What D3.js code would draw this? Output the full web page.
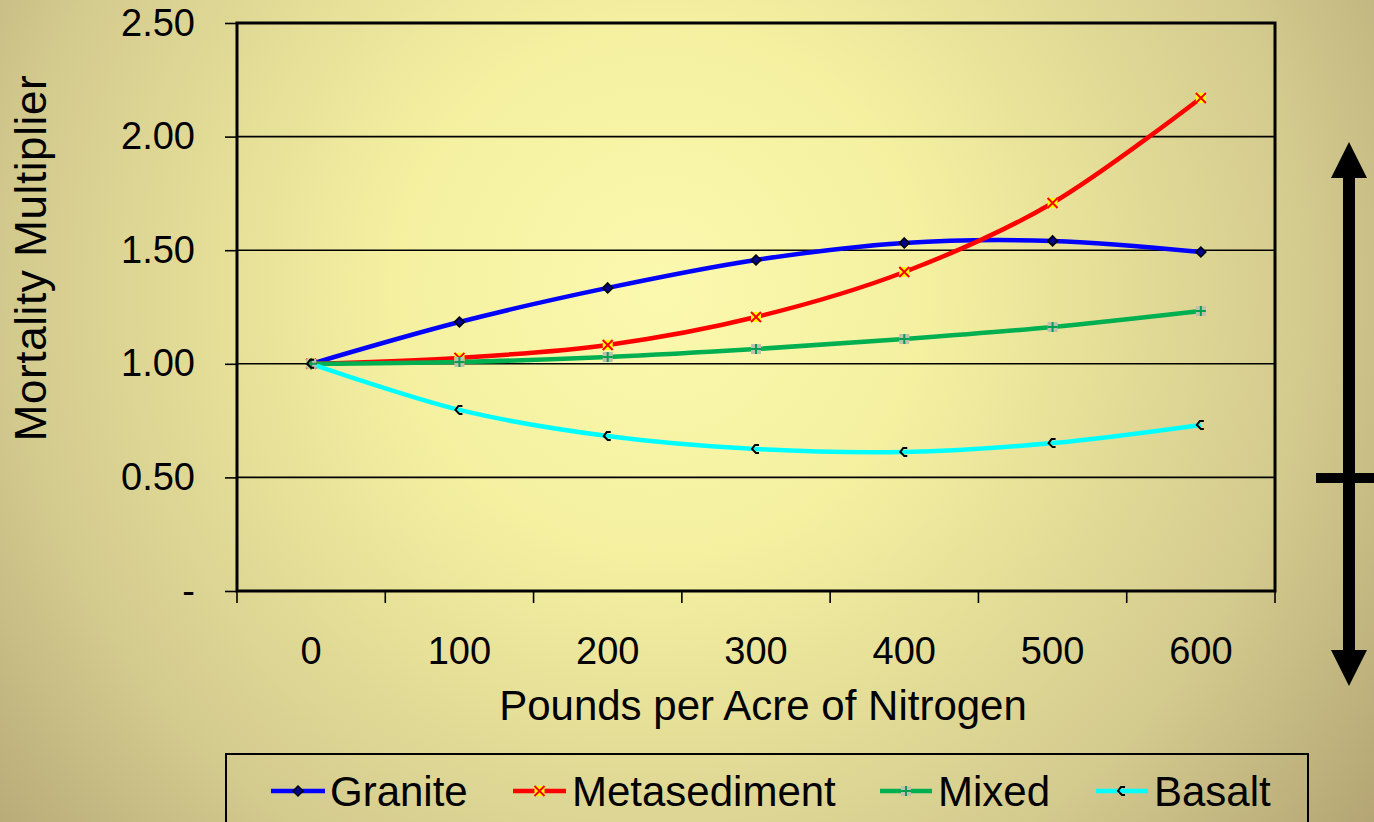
<!DOCTYPE html>
<html>
<head>
<meta charset="utf-8">
<script src="https://cdn.jsdelivr.net/npm/d3@7"></script>
<style>
  html, body { margin: 0; padding: 0; }
  body { width: 1374px; height: 822px; overflow: hidden; }
  svg { display: block; font-family: "Liberation Sans", Arial, sans-serif; }
</style>
</head>
<body>
<svg id="chart" width="1374" height="822"></svg>
<script>
// Nitrogen application rates (lb/acre)
const nitrogen = ["0", "100", "200", "300", "400", "500", "600"];

// Mortality multiplier per parent-rock type
const granite      = [1.00, 1.184, 1.334, 1.457, 1.532, 1.541, 1.492];
const metasediment = [1.00, 1.026, 1.083, 1.206, 1.404, 1.708, 2.170];
const mixed        = [1.00, 1.008, 1.030, 1.065, 1.109, 1.162, 1.232];
const basalt       = [1.00, 0.797, 0.682, 0.625, 0.612, 0.651, 0.731];

const yTicks = [0, 0.5, 1.0, 1.5, 2.0, 2.5];

const series = [
  { name: "Granite",      values: granite,      color: "#0000ff", marker: "diamond" },
  { name: "Metasediment", values: metasediment, color: "#ff0000", marker: "cross" },
  { name: "Mixed",        values: mixed,        color: "#00b050", marker: "plus" },
  { name: "Basalt",       values: basalt,       color: "#00ffff", marker: "open" }
];

const svg = d3.select("#chart");
const W = 1374, H = 822;
const plot = { left: 237, right: 1275, top: 23, bottom: 591 };

// Background gradient
const defs = svg.append("defs");
const bg = defs.append("radialGradient")
  .attr("id", "bg").attr("gradientUnits", "userSpaceOnUse")
  .attr("cx", 660).attr("cy", 290).attr("r", 900);
bg.append("stop").attr("offset", "0").attr("stop-color", "#fbf9ae");
bg.append("stop").attr("offset", "0.3").attr("stop-color", "#f4f0a0");
bg.append("stop").attr("offset", "0.72").attr("stop-color", "#d3ca8e");
bg.append("stop").attr("offset", "1").attr("stop-color", "#b3a473");
svg.append("rect").attr("width", W).attr("height", H).attr("fill", "url(#bg)");

const x = d3.scaleBand().domain(nitrogen).range([plot.left, plot.right]).padding(0);
const y = d3.scaleLinear().domain([0, 2.5]).range([plot.bottom, plot.top]);

// Horizontal gridlines
svg.append("g")
  .selectAll("line")
  .data(yTicks.filter(t => t > 0 && t < 2.5))
  .join("line")
  .attr("x1", plot.left).attr("x2", plot.right)
  .attr("y1", d => y(d)).attr("y2", d => y(d))
  .attr("stroke", "#000").attr("stroke-width", 1.6);

// Plot border
svg.append("rect")
  .attr("x", plot.left).attr("y", plot.top)
  .attr("width", plot.right - plot.left).attr("height", plot.bottom - plot.top)
  .attr("fill", "none").attr("stroke", "#000").attr("stroke-width", 3);

// Y axis
const yAxis = d3.axisLeft(y)
  .tickValues(yTicks)
  .tickSize(12)
  .tickPadding(30)
  .tickFormat(d => d === 0 ? "-" : d.toFixed(2));
const gy = svg.append("g").attr("transform", `translate(${plot.left},0)`).call(yAxis);
gy.select(".domain").remove();
gy.selectAll(".tick line").attr("stroke", "#000").attr("stroke-width", 1.6);
gy.selectAll(".tick text").attr("font-size", 38).attr("fill", "#000")
  .attr("font-family", "Liberation Sans, Arial, sans-serif");

// X axis: ticks on category boundaries, labels centered in each band
const edges = nitrogen.map(d => x(d)).concat([x(nitrogen[nitrogen.length - 1]) + x.bandwidth()]);
svg.append("g").selectAll("line").data(edges).join("line")
  .attr("x1", d => d).attr("x2", d => d)
  .attr("y1", plot.bottom).attr("y2", plot.bottom + 12)
  .attr("stroke", "#000").attr("stroke-width", 1.6);
svg.append("g").selectAll("text").data(nitrogen).join("text")
  .attr("x", d => x(d) + x.bandwidth() / 2)
  .attr("y", 664)
  .attr("text-anchor", "middle")
  .attr("font-size", 38)
  .text(d => d);

// Axis titles
svg.append("text")
  .attr("x", 763).attr("y", 720)
  .attr("text-anchor", "middle").attr("font-size", 42)
  .text("Pounds per Acre of Nitrogen");
svg.append("text")
  .attr("transform", "translate(46,258) rotate(-90)")
  .attr("text-anchor", "middle").attr("font-size", 44)
  .attr("letter-spacing", 0.6)
  .text("Mortality Multiplier");

// Series lines (smoothed)
const line = d3.line()
  .x((d, i) => x(nitrogen[i]) + x.bandwidth() / 2)
  .y(d => y(d))
  .curve(d3.curveCardinal.tension(0));

const gLines = svg.append("g");
series.forEach(s => {
  gLines.append("path")
    .attr("d", line(s.values))
    .attr("fill", "none")
    .attr("stroke", s.color)
    .attr("stroke-width", 4.5)
    .attr("stroke-linejoin", "round");
});

function drawMarker(g, type, cx, cy) {
  if (type === "diamond") {
    g.append("path")
      .attr("d", `M${cx},${cy - 5}L${cx + 5},${cy}L${cx},${cy + 5}L${cx - 5},${cy}Z`)
      .attr("fill", "#00008b").attr("stroke", "#000").attr("stroke-width", 1.5);
  } else if (type === "cross") {
    g.append("rect").attr("x", cx - 5).attr("y", cy - 5).attr("width", 10).attr("height", 10)
      .attr("fill", "#ffff00");
    g.append("path")
      .attr("d", `M${cx - 5},${cy - 5}L${cx + 5},${cy + 5}M${cx + 5},${cy - 5}L${cx - 5},${cy + 5}`)
      .attr("stroke", "#ff0000").attr("stroke-width", 2);
  } else if (type === "plus") {
    g.append("rect").attr("x", cx - 5).attr("y", cy - 5).attr("width", 10).attr("height", 10)
      .attr("fill", "#c0c0b0");
    g.append("path")
      .attr("d", `M${cx - 5},${cy}L${cx + 5},${cy}M${cx},${cy - 5}L${cx},${cy + 5}`)
      .attr("stroke", "#00a050").attr("stroke-width", 2);
  } else {
    g.append("path")
      .attr("d", `M${cx + 3},${cy - 4}L${cx - 1},${cy - 4}L${cx - 4},${cy}L${cx},${cy + 4}L${cx + 3},${cy + 4}`)
      .attr("fill", "none").attr("stroke", "#000").attr("stroke-width", 2);
  }
}

const gMarks = svg.append("g");
series.forEach(s => {
  s.values.forEach((v, i) => {
    drawMarker(gMarks, s.marker, x(nitrogen[i]) + x.bandwidth() / 2, y(v));
  });
});

// Legend
const legend = svg.append("g");
legend.append("rect")
  .attr("x", 226).attr("y", 754).attr("width", 1082).attr("height", 90)
  .attr("fill", "none").attr("stroke", "#000").attr("stroke-width", 2);
const legendPos = [
  { x0: 271, x1: 325, tx: 330 },
  { x0: 513, x1: 566, tx: 572 },
  { x0: 880, x1: 932, tx: 938 },
  { x0: 1096, x1: 1148, tx: 1154 }
];
series.forEach((s, i) => {
  const p = legendPos[i];
  legend.append("line")
    .attr("x1", p.x0).attr("x2", p.x1).attr("y1", 791).attr("y2", 791)
    .attr("stroke", s.color).attr("stroke-width", 4.5);
  drawMarker(legend, s.marker, (p.x0 + p.x1) / 2, 791);
  legend.append("text")
    .attr("x", p.tx).attr("y", 806)
    .attr("font-size", 42)
    .text(s.name);
});

// Range indicator on the right
const arrow = svg.append("g").attr("fill", "#000");
arrow.append("rect").attr("x", 1343).attr("y", 170).attr("width", 12).attr("height", 486);
arrow.append("path").attr("d", "M1349,142L1367,178L1331,178Z");
arrow.append("path").attr("d", "M1349,686L1367,650L1331,650Z");
arrow.append("rect").attr("x", 1316).attr("y", 473).attr("width", 58).attr("height", 10);
</script>
</body>
</html>
